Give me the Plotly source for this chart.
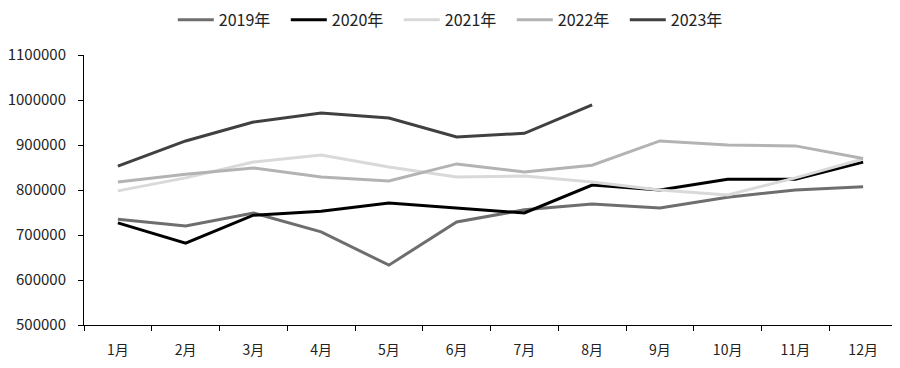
import plotly.graph_objects as go

months = ["1月", "2月", "3月", "4月", "5月", "6月", "7月", "8月", "9月", "10月", "11月", "12月"]
y2019 = [735000, 720000, 749000, 707000, 633000, 729000, 756000, 769000, 760000, 784000, 800000, 807000]
y2020 = [727000, 682000, 744000, 753000, 771000, 760000, 749000, 811000, 800000, 824000, 824000, 862000]
y2021 = [798000, 827000, 862000, 878000, 851000, 829000, 831000, 818000, 800000, 789000, 827000, 869000]
y2022 = [818000, 835000, 849000, 829000, 820000, 858000, 840000, 855000, 909000, 900000, 898000, 870000]
y2023 = [853000, 909000, 951000, 971000, 960000, 918000, 926000, 989000]
yticks = [500000, 600000, 700000, 800000, 900000, 1000000, 1100000]

series = [
    ("2019年", y2019, "#6e6e6e"),
    ("2020年", y2020, "#000000"),
    ("2021年", y2021, "#d9d9d9"),
    ("2022年", y2022, "#b3b3b3"),
    ("2023年", y2023, "#404040"),
]

fig = go.Figure()
for name, vals, color in series:
    fig.add_trace(go.Scatter(x=months[:len(vals)], y=vals, name=name, mode="lines",
                             line=dict(color=color, width=3)))

font = "Noto Sans CJK SC, DejaVu Sans, sans-serif"
fig.update_layout(
    width=900, height=368,
    margin=dict(l=76, r=11, t=47, b=51, autoexpand=False),
    paper_bgcolor="white", plot_bgcolor="white",
    font=dict(family=font, size=14, color="#222222"),
    showlegend=True,
    legend=dict(orientation="h", xref="container", x=0.497, xanchor="center",
                yref="paper", y=1.13, yanchor="middle",
                font=dict(size=16, color="#222222"), itemwidth=36,
                entrywidth=62, entrywidthmode="pixels",
                tracegroupgap=0),
    xaxis=dict(type="category", categoryorder="array", categoryarray=months,
               range=[-0.5, 11.5], showline=True, linecolor="black", linewidth=1,
               ticks="outside", tickson="boundaries", ticklen=5, tickcolor="black",
               showgrid=False, tickfont=dict(size=14, color="#222222"), ticklabelstandoff=12,
               automargin=False),
    yaxis=dict(range=[500000, 1100000], tickvals=yticks, ticktext=[str(v) for v in yticks],
               showline=True, linecolor="black", linewidth=1, ticks="outside",
               ticklen=5, tickcolor="black", showgrid=False, zeroline=False,
               tickfont=dict(size=15, color="#222222"), ticklabelstandoff=9,
               automargin=False),
)

fig.write_html("out.html")
